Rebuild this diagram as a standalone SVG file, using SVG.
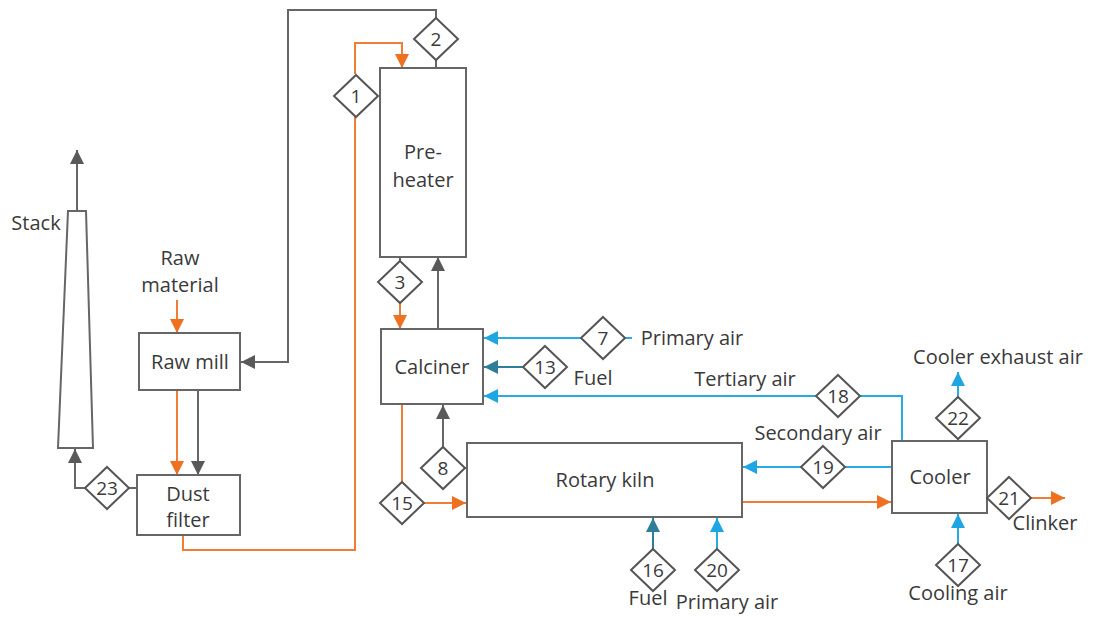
<svg xmlns="http://www.w3.org/2000/svg" width="1093" height="617" viewBox="0 0 1093 617">
<style>
.box{fill:#fff;stroke:#666;stroke-width:2}
.dia{fill:#fff;stroke:#555;stroke-width:2}
.t{font-family:"Open Sans","Liberation Sans",sans-serif;font-size:20px;fill:#3a3a3a;text-anchor:middle}
.n{font-family:"Open Sans","Liberation Sans",sans-serif;font-size:19px;fill:#3a3a3a;text-anchor:middle}
.g{fill:none;stroke:#666;stroke-width:2}
.o{fill:none;stroke:#EE7D35;stroke-width:2}
.b{fill:none;stroke:#2AAAE2;stroke-width:2}
.k{fill:none;stroke:#2E7D99;stroke-width:2}
</style>
<defs>
<marker id="ag" markerUnits="userSpaceOnUse" markerWidth="14" markerHeight="14" refX="14" refY="7" orient="auto"><path d="M0,0L14,7L0,14z" fill="#595959"/></marker>
<marker id="ao" markerUnits="userSpaceOnUse" markerWidth="14" markerHeight="14" refX="14" refY="7" orient="auto"><path d="M0,0L14,7L0,14z" fill="#EE7020"/></marker>
<marker id="ab" markerUnits="userSpaceOnUse" markerWidth="14" markerHeight="14" refX="14" refY="7" orient="auto"><path d="M0,0L14,7L0,14z" fill="#1EA5E3"/></marker>
<marker id="ak" markerUnits="userSpaceOnUse" markerWidth="14" markerHeight="14" refX="14" refY="7" orient="auto"><path d="M0,0L14,7L0,14z" fill="#2E7D99"/></marker>
<polygon id="dm" points="0,-21 22,0 0,21 -22,0"/>
</defs>

<g id="connectors">
<path class="g" d="M436,18V10H288V362H241" marker-end="url(#ag)"/>
<path class="g" d="M436,60V68"/>
<path class="o" d="M183,535V550H355V117"/>
<path class="o" d="M355,74V43H402V68" marker-end="url(#ao)"/>
<path class="g" d="M400,257V261"/>
<path class="o" d="M400,303V329" marker-end="url(#ao)"/>
<path class="g" d="M438,329V257" marker-end="url(#ag)"/>
<path class="o" d="M177,300V333" marker-end="url(#ao)"/>
<path class="o" d="M177,390V475" marker-end="url(#ao)"/>
<path class="g" d="M198,390V475" marker-end="url(#ag)"/>
<path class="g" d="M137,488H129"/>
<path class="g" d="M85,488H75V449" marker-end="url(#ag)"/>
<path class="g" d="M77,211V150" marker-end="url(#ag)"/>
<path class="b" d="M582,338H484" marker-end="url(#ab)"/>
<path class="b" d="M625,338H632"/>
<path class="k" d="M523,367H484" marker-end="url(#ak)"/>
<path class="b" d="M902,441V396H860"/>
<path class="b" d="M816,396H484" marker-end="url(#ab)"/>
<path class="b" d="M892,467H845"/>
<path class="b" d="M801,467H743" marker-end="url(#ab)"/>
<path class="o" d="M743,502H891" marker-end="url(#ao)"/>
<path class="g" d="M987,498H988"/>
<path class="o" d="M1031,498H1065" marker-end="url(#ao)"/>
<path class="g" d="M958,441V439"/>
<path class="b" d="M958,397V372" marker-end="url(#ab)"/>
<path class="b" d="M958,544V514" marker-end="url(#ab)"/>
<path class="k" d="M653,549V518" marker-end="url(#ak)"/>
<path class="b" d="M717,549V518" marker-end="url(#ab)"/>
<path class="g" d="M463,468H467"/>
<path class="g" d="M443,447V405" marker-end="url(#ag)"/>
<path class="o" d="M402,405V482"/>
<path class="o" d="M423,503H466" marker-end="url(#ao)"/>
</g>

<g id="stack">
<polygon class="box" points="68,211 86,211 93,448 58,448"/>
<text class="t" x="36" y="230">Stack</text>
</g>
<g id="raw-material">
<text class="t" x="180" y="265">Raw</text>
<text class="t" x="180" y="292">material</text>
</g>
<g id="raw-mill">
<rect class="box" x="139" y="333" width="101" height="57"/>
<text class="t" x="190" y="369">Raw mill</text>
</g>
<g id="dust-filter">
<rect class="box" x="137" y="475" width="103" height="60"/>
<text class="t" x="188" y="501">Dust</text>
<text class="t" x="188" y="527">filter</text>
</g>
<g id="preheater">
<rect class="box" x="380" y="68" width="86" height="189"/>
<text class="t" x="423" y="159">Pre-</text>
<text class="t" x="423" y="187">heater</text>
</g>
<g id="calciner">
<rect class="box" x="381" y="329" width="102" height="75"/>
<text class="t" x="432" y="374">Calciner</text>
</g>
<g id="rotary-kiln">
<rect class="box" x="467" y="443" width="275" height="74"/>
<text class="t" x="605" y="487">Rotary kiln</text>
</g>
<g id="cooler">
<rect class="box" x="892" y="441" width="95" height="72"/>
<text class="t" x="940" y="484">Cooler</text>
</g>

<g id="s1"><use href="#dm" class="dia" x="356" y="96"/><text class="n" x="356" y="103">1</text></g>
<g id="s2"><use href="#dm" class="dia" x="436" y="39"/><text class="n" x="436" y="46">2</text></g>
<g id="s3"><use href="#dm" class="dia" x="400" y="282"/><text class="n" x="400" y="289">3</text></g>
<g id="s7"><use href="#dm" class="dia" x="603" y="338"/><text class="n" x="603" y="345">7</text>
<text class="t" x="692" y="345">Primary air</text></g>
<g id="s13"><use href="#dm" class="dia" x="545" y="367"/><text class="n" x="545" y="374">13</text>
<text class="t" x="593" y="385">Fuel</text></g>
<g id="s18"><use href="#dm" class="dia" x="838" y="396"/><text class="n" x="838" y="403">18</text>
<text class="t" x="745" y="386">Tertiary air</text></g>
<g id="s8"><use href="#dm" class="dia" x="443" y="468"/><text class="n" x="443" y="475">8</text></g>
<g id="s15"><use href="#dm" class="dia" x="402" y="503"/><text class="n" x="402" y="510">15</text></g>
<g id="s16"><use href="#dm" class="dia" x="653" y="570"/><text class="n" x="653" y="577">16</text>
<text class="t" x="648" y="605">Fuel</text></g>
<g id="s20"><use href="#dm" class="dia" x="717" y="570"/><text class="n" x="717" y="577">20</text>
<text class="t" x="727" y="609">Primary air</text></g>
<g id="s19"><use href="#dm" class="dia" x="823" y="467"/><text class="n" x="823" y="474">19</text>
<text class="t" x="818" y="440">Secondary air</text></g>
<g id="s22"><use href="#dm" class="dia" x="958" y="418"/><text class="n" x="958" y="425">22</text>
<text class="t" x="998" y="364">Cooler exhaust air</text></g>
<g id="s21"><use href="#dm" class="dia" x="1009" y="498"/><text class="n" x="1009" y="505">21</text>
<text class="t" x="1045" y="530">Clinker</text></g>
<g id="s17"><use href="#dm" class="dia" x="958" y="565"/><text class="n" x="958" y="572">17</text>
<text class="t" x="958" y="600">Cooling air</text></g>
<g id="s23"><use href="#dm" class="dia" x="107" y="488"/><text class="n" x="107" y="495">23</text></g>
</svg>
